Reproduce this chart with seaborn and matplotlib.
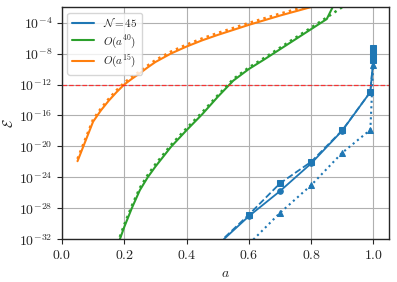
import numpy as np
import pandas as pd
import seaborn as sns
import matplotlib
matplotlib.use("Agg")
from matplotlib import pyplot as plt
from matplotlib.lines import Line2D

# data (log10 of the error)
a_blue = [0.5, 0.6, 0.7, 0.8, 0.9, 0.99, 0.999, 0.9999, 1.0]
blue_solid = [-32.7, -29.0, -25.76, -22.19, -17.94, -12.96, -8.9, -8.2, -7.4]
blue_dashed = [-32.6, -28.8, -24.76, -21.98, -17.9, -12.96, -8.8, -8.1, -7.3]
blue_dotted = [-36.5, -32.6, -28.57, -25.0, -20.8, -17.85, -9.5, -8.6, -8.0]

a_orange = [0.05, 0.1, 0.125, 0.15, 0.175, 0.2, 0.225, 0.25, 0.275, 0.3,
            0.325, 0.35, 0.4, 0.45, 0.5, 0.55, 0.6, 0.65, 0.7, 0.75, 0.8,
            0.85]
orange_err = [-21.9, -16.8, -15.35, -14.1, -13.0, -12.0, -11.25, -10.55,
              -9.8, -9.1, -8.55, -8.0, -7.1, -6.3, -5.6, -4.95, -4.3, -3.7,
              -3.1, -2.55, -2.0, -1.5]
orange_est = [-21.6, -16.5, -15.1, -13.85, -12.75, -11.75, -11.0, -10.3,
              -9.55, -8.85, -8.3, -7.75, -6.85, -6.05, -5.35, -4.7, -4.05,
              -3.45, -2.85, -2.3, -1.75, -1.25]

a_green = [0.15, 0.2, 0.225, 0.25, 0.275, 0.3, 0.35, 0.4, 0.45, 0.5, 0.55,
           0.6, 0.65, 0.7, 0.75, 0.8, 0.85, 0.9]
green_err = [-36.0, -30.4, -27.9, -25.65, -24.0, -22.6, -20.05, -17.9,
             -15.85, -13.6, -11.5, -10.0, -8.75, -7.45, -6.15, -4.85, -3.55,
             0.5]
green_est = [-35.7, -30.1, -27.6, -25.35, -23.7, -22.3, -19.8, -17.65,
             -15.6, -13.4, -11.3, -9.8, -8.55, -7.25, -5.95, -4.65, -3.35,
             -2.0]

tol = 1e-12

sns.set_style("ticks")
plt.rcParams['font.family'] = 'serif'
plt.rcParams['font.serif'] = ['cmr10', 'DejaVu Serif']
plt.rcParams['mathtext.fontset'] = 'cm'
plt.rcParams['axes.formatter.use_mathtext'] = True

blue = '#1f77b4'
orange = '#ff7f0e'
green = '#2ca02c'

fig = plt.figure(figsize=(3.97, 2.82), dpi=100)
ax = fig.add_axes([0.156, 0.151, 0.824, 0.824])

pw = lambda v: 10.0 ** np.array(v)

sns.lineplot(x=a_orange, y=pw(orange_err), color=orange, lw=1.5, ax=ax)
sns.lineplot(x=a_orange, y=pw(orange_est), color=orange, lw=1.8, ls=':', ax=ax)
sns.lineplot(x=a_green, y=pw(green_err), color=green, lw=1.5, ax=ax)
sns.lineplot(x=a_green, y=pw(green_est), color=green, lw=1.8, ls=':', ax=ax)

sns.lineplot(x=a_blue, y=pw(blue_solid), color=blue, lw=1.3, marker='o',
             ms=4, mec=blue, ax=ax)
sns.lineplot(x=a_blue, y=pw(blue_dashed), color=blue, lw=1.3, ls='--',
             marker='s', ms=4, mec=blue, ax=ax)
sns.lineplot(x=a_blue, y=pw(blue_dotted), color=blue, lw=1.5, ls=':',
             marker='^', ms=4, mec=blue, ax=ax)

ax.axhline(tol, color='#ff2020', ls='--', lw=0.9, alpha=0.85)

ax.set_yscale('log')
ax.set_xlim(0, 1.05)
ax.set_ylim(1e-32, 1e-2)
ax.set_yticks([10.0 ** k for k in range(-32, -3, 4)])
ax.minorticks_off()
ax.set_xticks([0.0, 0.2, 0.4, 0.6, 0.8, 1.0])
ax.grid(True, color='#b0b0b0', lw=0.8)
ax.tick_params(labelsize=10, length=3.5, width=0.8)
for s in ax.spines.values():
    s.set_linewidth(1.0)

ax.set_xlabel(r'$a$', fontsize=10, labelpad=4)
ax.set_ylabel(r'$\mathcal{E}$', fontsize=10, labelpad=2)

handles = [Line2D([], [], color=blue, lw=1.5),
           Line2D([], [], color=green, lw=1.5),
           Line2D([], [], color=orange, lw=1.5)]
labels = [r'$\mathcal{N} = 45$', r'$O(a^{40})$', r'$O(a^{15})$']
ax.legend(handles, labels, loc='upper left', fontsize=8, handlelength=2,
          borderpad=0.4, labelspacing=0.3, framealpha=0.8,
          edgecolor='#cccccc')

fig.savefig('out.png', dpi=100)
